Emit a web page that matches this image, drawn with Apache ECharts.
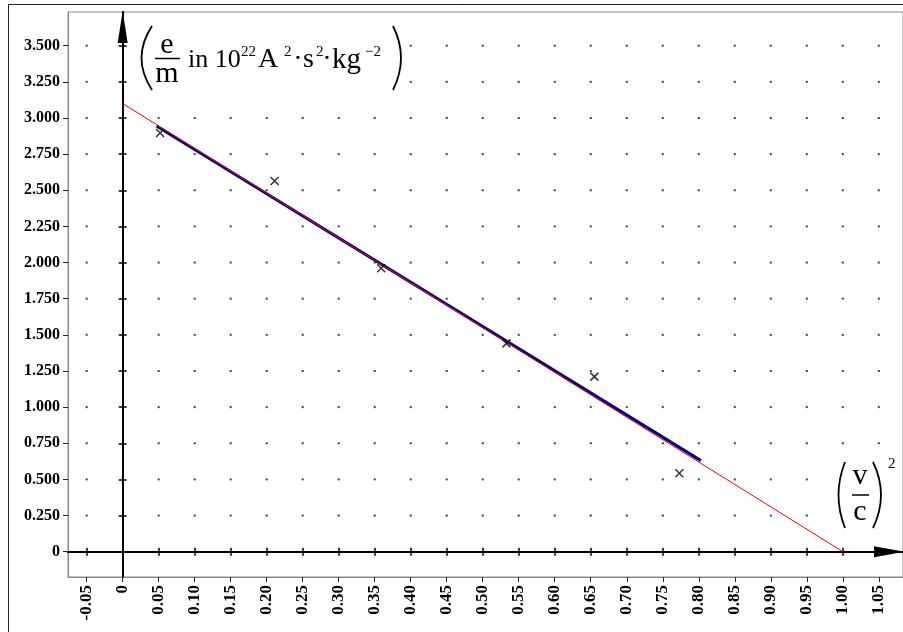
<!DOCTYPE html>
<html>
<head>
<meta charset="utf-8">
<script src="https://cdn.jsdelivr.net/npm/echarts@6/dist/echarts.min.js"></script>
<style>
  html, body { margin: 0; padding: 0; background: #fff; }
  #chart { width: 903px; height: 632px; }
</style>
</head>
<body>
<div id="chart"></div>
<script>
// tick values and labels
const xTickValues = [-0.05, 0, 0.05, 0.10, 0.15, 0.20, 0.25, 0.30, 0.35, 0.40, 0.45, 0.50,
  0.55, 0.60, 0.65, 0.70, 0.75, 0.80, 0.85, 0.90, 0.95, 1.00, 1.05]
const xTickLabels = ['-0.05', '0', '0.05', '0.10', '0.15', '0.20', '0.25', '0.30', '0.35', '0.40', '0.45', '0.50',
  '0.55', '0.60', '0.65', '0.70', '0.75', '0.80', '0.85', '0.90', '0.95', '1.00', '1.05']
const yTickValues = [0, 0.25, 0.5, 0.75, 1, 1.25, 1.5, 1.75, 2, 2.25, 2.5, 2.75, 3, 3.25, 3.5]
const yTickLabels = ['0', '0.250', '0.500', '0.750', '1.000', '1.250', '1.500', '1.750', '2.000',
  '2.250', '2.500', '2.750', '3.000', '3.250', '3.500']

// measured points (v/c)^2 vs e/m
const measX = [0.052, 0.211, 0.359, 0.533, 0.655, 0.773]
const measY = [2.896, 2.564, 1.960, 1.441, 1.211, 0.542]

// fitted line (blue) and theory line (red)
const fitX = [0.047, 0.803]
const fitY = [2.945, 0.630]
const theoryX = [0, 1.0]
const theoryY = [3.1, 0]

const xMin = -0.0759
const xMax = 1.0836
const yMin = -0.175
const yMax = 3.733

const FONT = 'Liberation Serif'

const pairs = (xs, ys) => xs.map((x, i) => [x, ys[i]])
const labelOf = (vals, labels) => (v) => {
  const i = vals.findIndex(t => Math.abs(t - v) < 1e-9)
  return i >= 0 ? labels[i] : ''
}

// dotted grid at tick crossings
const gridDots = []
xTickValues.forEach(x => {
  if (x === 0) return
  yTickValues.forEach(y => {
    if (y === 0) return
    gridDots.push([x, y])
  })
})

const boxAxisX = {
  type: 'value', min: xMin, max: xMax, position: 'bottom',
  axisLine: { onZero: false, lineStyle: { color: '#888', width: 1 } },
  axisTick: { customValues: xTickValues, length: 5, lineStyle: { color: '#222', width: 1 } },
  axisLabel: {
    customValues: xTickValues, rotate: 90, margin: 8,
    formatter: labelOf(xTickValues, xTickLabels),
    fontFamily: FONT, fontWeight: 'bold', fontSize: 17, color: '#000'
  },
  splitLine: { show: false }
}

const zeroAxisX = (inside, arrow) => ({
  type: 'value', min: xMin, max: xMax, position: 'bottom',
  axisLine: {
    onZero: true, onZeroAxisIndex: 0,
    lineStyle: { color: '#000', width: 2 },
    symbol: arrow ? ['none', 'triangle'] : 'none',
    symbolSize: [11, 30], symbolOffset: [0, -14]
  },
  axisTick: { customValues: xTickValues, inside: inside, length: 4, lineStyle: { color: '#000', width: 1.5 } },
  axisLabel: { show: false },
  splitLine: { show: false }
})

const boxAxisY = {
  type: 'value', min: yMin, max: yMax, position: 'left',
  axisLine: { onZero: false, lineStyle: { color: '#888', width: 1 } },
  axisTick: { customValues: yTickValues, length: 5, lineStyle: { color: '#222', width: 1 } },
  axisLabel: {
    customValues: yTickValues, margin: 8,
    formatter: labelOf(yTickValues, yTickLabels),
    fontFamily: FONT, fontWeight: 'bold', fontSize: 16, color: '#000'
  },
  splitLine: { show: false }
}

const zeroAxisY = (inside, arrow) => ({
  type: 'value', min: yMin, max: yMax, position: 'left',
  axisLine: {
    onZero: true, onZeroAxisIndex: 0,
    lineStyle: { color: '#000', width: 2 },
    symbol: arrow ? ['none', 'triangle'] : 'none',
    symbolSize: [10, 32], symbolOffset: [0, -15]
  },
  axisTick: { customValues: yTickValues, inside: inside, length: 4, lineStyle: { color: '#000', width: 1.5 } },
  axisLabel: { show: false },
  splitLine: { show: false }
})

const txt = (text, x, y, size, align) => ({
  type: 'text', z: 51,
  style: {
    text: text, x: x, y: y, fill: '#000',
    font: size + 'px "' + FONT + '"',
    align: align, textAlign: align,
    verticalAlign: 'middle', textVerticalAlign: 'middle'
  }
})

const paren = (x, y1, y2, cpx) => ({
  type: 'bezierCurve', z: 51,
  shape: { x1: x, y1: y1, x2: x, y2: y2, cpx1: cpx, cpy1: (y1 + y2) / 2 },
  style: { stroke: '#000', lineWidth: 1.8, fill: null }
})

const chart = echarts.init(document.getElementById('chart'))
chart.setOption({
  backgroundColor: '#fff',
  animation: false,
  grid: { left: 68, top: 12, right: -1, bottom: 55, show: true, borderColor: '#888', borderWidth: 1 },
  xAxis: [boxAxisX, zeroAxisX(true, true), zeroAxisX(false, false)],
  yAxis: [boxAxisY, zeroAxisY(true, true), zeroAxisY(false, false)],
  series: [
    {
      type: 'scatter', data: gridDots, symbol: 'rect', symbolSize: 2,
      itemStyle: { color: '#111' }, silent: true, z: 1
    },
    {
      type: 'line', data: pairs(fitX, fitY), showSymbol: false, symbol: 'none',
      lineStyle: { color: '#000080', width: 3 }, z: 3
    },
    {
      type: 'line', data: pairs(theoryX, theoryY), showSymbol: false, symbol: 'none',
      lineStyle: { color: '#ff0000', width: 1 }, z: 4
    },
    {
      type: 'scatter', data: pairs(measX, measY),
      symbol: 'path://M0 0L10 10M10 0L0 10', symbolSize: 8,
      itemStyle: { color: 'none', borderColor: '#000', borderWidth: 1.5 }, z: 5
    }
  ],
  graphic: [
    // outer frame
    { type: 'rect', z: 60, shape: { x: 8.5, y: 4.5, width: 1000, height: 1000 },
      style: { stroke: '#222', lineWidth: 1, fill: null } },
    // y-axis title with white backing
    { type: 'rect', z: 50, shape: { x: 132, y: 20, width: 272, height: 76 }, style: { fill: '#fff' } },
    paren(152, 26, 90, 131),
    paren(393, 26, 90, 409),
    txt('e', 167, 45, 30, 'center'),
    { type: 'line', z: 51, shape: { x1: 155, y1: 58.5, x2: 180, y2: 58.5 }, style: { stroke: '#000', lineWidth: 1.5 } },
    txt('m', 167, 74, 30, 'center'),
    txt('in 10', 188, 60, 26, 'left'),
    txt('22', 241, 52, 15, 'left'),
    txt('A', 258, 60, 28, 'left'),
    txt('2', 284, 52, 15, 'left'),
    txt('\u00b7', 298, 60, 28, 'center'),
    txt('s', 303, 60, 28, 'left'),
    txt('2', 316, 52, 15, 'left'),
    txt('\u00b7', 327, 60, 28, 'center'),
    txt('kg', 332, 60, 29, 'left'),
    txt('\u22122', 365, 52, 15, 'left'),
    // x-axis title with white backing
    { type: 'rect', z: 50, shape: { x: 834, y: 456, width: 60, height: 76 }, style: { fill: '#fff' } },
    paren(845, 462, 528, 832),
    paren(873, 462, 528, 889),
    txt('v', 860, 476, 30, 'center'),
    { type: 'line', z: 51, shape: { x1: 852, y1: 495, x2: 869, y2: 495 }, style: { stroke: '#000', lineWidth: 1.5 } },
    txt('c', 860, 512, 30, 'center'),
    txt('2', 888, 464, 15, 'left')
  ]
})
</script>
</body>
</html>
